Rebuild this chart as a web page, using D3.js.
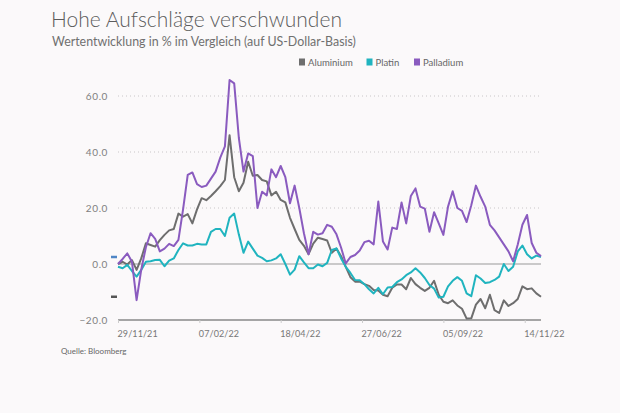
<!DOCTYPE html>
<html><head><meta charset="utf-8">
<script src="https://cdn.jsdelivr.net/npm/d3@7"></script>
<style>
html,body{margin:0;padding:0;background:#fbf9fa;}
svg{display:block;font-family:Lato,"Open Sans",sans-serif;}
</style></head>
<body>
<svg id="c" width="620" height="413"></svg>
<script>
// ---- data ----
const title = "Hohe Aufschläge verschwunden";
const subtitle = "Wertentwicklung in % im Vergleich (auf US-Dollar-Basis)";
const source = "Quelle: Bloomberg";
const seriesNames = ["Aluminium", "Platin", "Palladium"];
const seriesColors = ["#6e6e6e", "#20b4bf", "#8a5bbf"];
const startDate = "2021-11-29";
const stepDays = 4;
const tickLabels = ["29/11/21", "07/02/22", "18/04/22", "27/06/22", "05/09/22", "14/11/22"];
const yTicks = [-20, 0, 20, 40, 60];

const aluminium = [0,0.8,-0.2,1.4,-2.1,2,7.4,6.8,6.2,8.5,10.4,12,12.5,18,16.9,17.8,14.5,19.5,23.5,22.8,
24.3,26,27.8,30,46,31,26,29,36.5,31.5,31.8,30,29.5,24.5,25.8,22.9,22,16.5,12.5,8.6,
6.5,3.5,7.3,9.4,8.9,8.4,4,5.5,2.8,-1,-4.7,-6.3,-6.3,-7.2,-7.8,-9.3,-9.5,-11,-11.5,-8.5,
-7.3,-7.3,-9,-5,-7.2,-8.5,-9.6,-8.5,-6,-11,-13.5,-14,-13,-14.8,-16,-19.5,-19.4,-14.5,-12.5,-15.8,
-11,-16.5,-17.5,-13,-15,-14,-12.5,-8,-9,-8.7,-10.5,-11.7];

const platin = [-1,-1.5,-0.3,-2.5,-4.5,-2.1,0.8,1,1.4,1.5,-0.8,1.2,2,5,7.4,6.6,6.6,7.2,7,7,
11.5,12.5,12.5,10,16.5,18,10.5,4,8,5.5,3,2.2,1,1.3,2,3.5,0,-3.8,-2,2.8,
0.6,-1.5,-1.5,-0.2,-0.8,0.4,5,5.6,2,-1,-3.2,-5.7,-5.8,-7.2,-9,-10.5,-8.5,-10.8,-8.4,-8.2,
-6.5,-5.5,-4,-3,-1.5,-3,-5,-7.5,-8.8,-12,-11.7,-8,-6,-4.7,-6,-10.5,-11.5,-4,-5.2,-6.8,
-6.5,-5.7,-4.5,0,-2.5,-1,4.5,6.6,3.5,2,3,2.5];

const palladium = [0,1.8,3.8,0.8,-12.9,-2,6,11,9,4.5,5.5,7.2,6.4,8.6,19.5,31.8,32.7,28.5,27.5,28,
30.5,33,38,42,65.7,64.5,45,33,39.5,38.5,20,25.8,24.5,33.8,31,35,31,21.7,28,20,
11,3.5,11.5,10.5,11,14,13.3,10.6,5.8,0.2,2.5,3.2,4.8,7.8,8.3,7,22.3,8,5.2,13,
12.5,22,14.5,24.3,27,20.5,19.8,11.5,18.5,14.5,10.4,20.5,26,20,19,15,21,28,24,20.5,
14,12,9.5,7,4.5,1,7,14,17.5,7.5,4,2.8];

// ---- chart ----
const svg = d3.select("#c");
const W = 620, H = 413;
const m = {left:118, right:79, top:96, bottom:93};
const parseISO = d3.timeParse("%Y-%m-%d");
const parseTick = d3.timeParse("%d/%m/%y");
const t0 = parseISO(startDate);
const dates = aluminium.map((_, i) => d3.timeDay.offset(t0, i * stepDays));
const series = [aluminium, platin, palladium];

const x = d3.scaleTime().domain([dates[0], dates[dates.length-1]]).range([m.left, W - m.right]);
const y = d3.scaleLinear().domain([-20, 60]).range([H - m.bottom, m.top]);

svg.append("rect").attr("width", W).attr("height", H).attr("fill", "#fbf9fa");

// title
svg.append("text").attr("x", 51).attr("y", 27).text(title)
  .attr("font-size", 21).attr("font-weight", 300).attr("fill", "#5c5c5c");
svg.append("text").attr("x", 52).attr("y", 45.5).text(subtitle)
  .attr("font-size", 12.4).attr("fill", "#707070");

// legend
const legX = [299, 366.5, 414];
const leg = svg.append("g");
seriesNames.forEach((n, i) => {
  leg.append("rect").attr("x", legX[i]).attr("y", 58.5).attr("width", 6).attr("height", 7).attr("fill", seriesColors[i]);
  leg.append("text").attr("x", legX[i] + 9).attr("y", 65.5).text(n).attr("font-size", 9.5).attr("fill", "#666");
});

// grid
const grid = svg.append("g");
yTicks.filter(v => v > 0).forEach(v => {
  grid.append("line").attr("x1", m.left).attr("x2", W - m.right).attr("y1", y(v)).attr("y2", y(v))
    .attr("stroke", "#c9c6c8").attr("stroke-width", 1).attr("stroke-dasharray", "1,3");
});
grid.append("line").attr("x1", m.left).attr("x2", W - m.right).attr("y1", y(0)).attr("y2", y(0))
  .attr("stroke", "#999").attr("stroke-width", 1);

// y axis
const yAxis = svg.append("g").attr("transform", `translate(${m.left - 10},0)`)
  .call(d3.axisLeft(y).tickValues(yTicks).tickFormat(d3.format(".1f")).tickSize(0).tickPadding(0));
yAxis.select(".domain").remove();
yAxis.selectAll("text").attr("font-size", 10).attr("fill", "#808080").attr("font-family", "Lato,sans-serif").attr("letter-spacing", 0.6);

// x axis
const xAxis = svg.append("g").attr("transform", `translate(0,${y(-20)})`)
  .call(d3.axisBottom(x).tickValues(tickLabels.map(parseTick)).tickFormat(d3.timeFormat("%d/%m/%y")).tickSize(3).tickPadding(8));
xAxis.select(".domain").attr("stroke", "#888").attr("stroke-width", 1.5).attr("d", `M${m.left},0H${W - m.right}`);
xAxis.selectAll(".tick line").attr("stroke", "#ccc");
xAxis.selectAll("text").attr("font-size", 9).attr("fill", "#777").attr("text-anchor", "start")
  .attr("font-family", "Lato,sans-serif").attr("dx", -1).attr("letter-spacing", 0.1);

// lines
const line = d3.line().x((d, i) => x(dates[i])).y(d => y(d));
series.forEach((s, i) => {
  svg.append("path").datum(s).attr("d", line).attr("fill", "none")
    .attr("stroke", seriesColors[i]).attr("stroke-width", 2).attr("stroke-linejoin", "round");
});

// end markers on left
[[aluminium, "#555"], [platin, "#4f86c6"]].forEach(([s, c]) => {
  const yy = y(s[s.length-1]);
  svg.append("line").attr("x1", m.left - 7).attr("x2", m.left - 1)
    .attr("y1", yy).attr("y2", yy).attr("stroke", c).attr("stroke-width", 2.5);
});

// source
svg.append("text").attr("x", 61).attr("y", 353.5).text(source).attr("font-size", 8).attr("fill", "#666");
</script>
</body></html>
